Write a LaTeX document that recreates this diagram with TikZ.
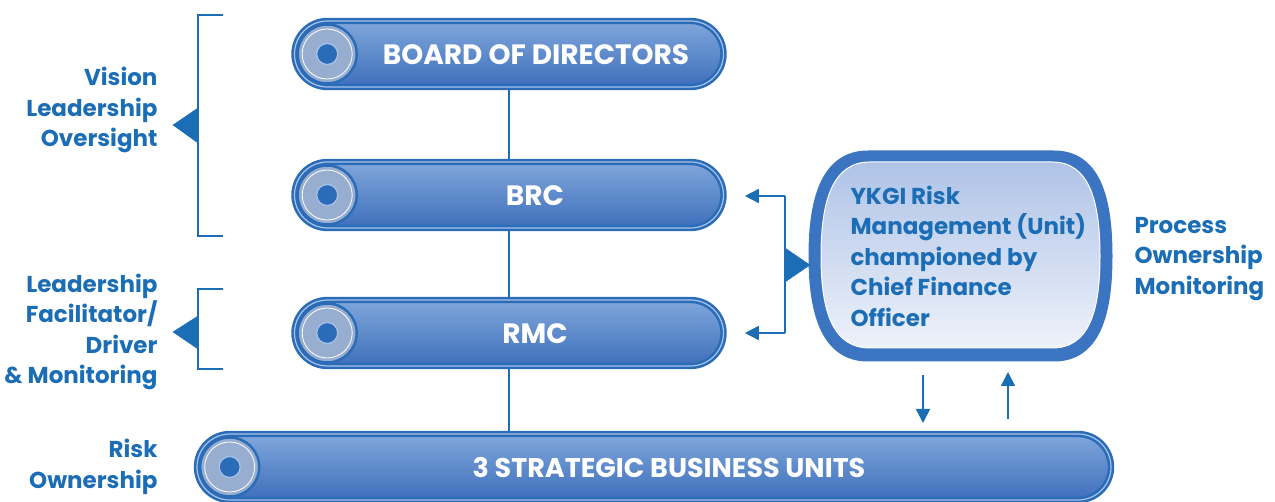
\documentclass[tikz,border=0pt]{standalone}
\usepackage{fontspec}
\setmainfont{Poppins}
\usetikzlibrary{arrows.meta,backgrounds}

\definecolor{ykblue}{HTML}{1B6DB6}
\definecolor{rimblue}{HTML}{2A6CB7}
\definecolor{rimlight}{HTML}{A9C3EA}
\definecolor{pilltop}{HTML}{80A7DC}
\definecolor{pillmid}{HTML}{5787CA}
\definecolor{pillbot}{HTML}{3E6FBB}
\definecolor{discgray}{HTML}{98AED0}
\definecolor{boxrim}{HTML}{3B75C1}
\definecolor{boxtop}{HTML}{AFC3E7}
\definecolor{boxbot}{HTML}{EEF2FA}

\tikzset{
  pill/.style={rectangle, rounded corners=33pt, minimum height=66pt, inner sep=0pt,
    draw=rimblue, double=rimlight, double distance=1.2pt, line width=2.6pt,
    top color=pilltop, middle color=pillmid, bottom color=pillbot},
  disc/.style={circle, minimum size=59pt, inner sep=0pt, draw=rimblue, line width=2.5pt,
    top color=discgray, middle color=white, bottom color=discgray, shading angle=45},
  discring/.style={circle, minimum size=50pt, inner sep=0pt, draw=white, line width=0.8pt},
  hole/.style={circle, minimum size=21pt, inner sep=0pt, fill=rimblue, draw=rimlight, line width=1.2pt},
  pilltext/.style={text=white, font=\fontsize{28}{30}\selectfont\bfseries},
  sidetext/.style={text=ykblue, align=right, anchor=east, font=\fontsize{23}{30.5}\selectfont\bfseries},
  boxtext/.style={text=ykblue, align=left, anchor=west, font=\fontsize{23}{30.5}\selectfont\bfseries},
  brace/.style={ykblue, line width=2pt},
  flag/.style={ykblue, fill},
  tip/.style={-{Triangle[length=14pt,width=14pt]}, ykblue, line width=1.6pt}
}

\begin{document}
\begin{tikzpicture}[x=1pt, y=-1pt]
\useasboundingbox (0,0) rectangle (1275,502);

% the four bars
\node[pill, minimum width=429pt] (board) at (509,54)  {};
\node[pill, minimum width=429pt] (brc)   at (509,195) {};
\node[pill, minimum width=429pt] (rmc)   at (509,333) {};
\node[pill, minimum width=914pt] (sbu)   at (654,467) {};

\foreach \n in {board,brc,rmc,sbu}{
  \node[disc] (\n disc) at ([xshift=34pt]\n.west) {};
  \node[discring] (\n ring) at (\n disc) {};
  \node[hole] (\n hole) at (\n disc) {};
}

\node[pilltext] (boardtxt) at (536,55)  {BOARD OF DIRECTORS};
\node[pilltext] (brctxt)   at (535,196) {BRC};
\node[pilltext] (rmctxt)   at (535,334) {RMC};
\node[pilltext, font=\fontsize{27}{30}\selectfont\bfseries] (sbutxt) at (669,468) {3 STRATEGIC BUSINESS UNITS};

\begin{scope}[on background layer]
\draw[ykblue, line width=1.4pt] (board.south) -- (board.south |- sbu.north);
\end{scope}

% left brackets
\draw[brace] (223,15) -- (198,15) -- (198,236) -- (223,236);
\draw[flag] (198,108) -- (173,125) -- (198,143) -- cycle;
\draw[brace] (223,289) -- (198,289) -- (198,369) -- (223,369);
\draw[flag] (198,316) -- (173,332) -- (198,349) -- cycle;

\node[sidetext] (vision) at (161,110) {Vision\\Leadership\\Oversight};
\node[sidetext] (lead)   at (161,332) {Leadership\\Facilitator/\\Driver\\\& Monitoring};
\node[sidetext] (own)    at (161,467) {Risk\\Ownership};

% risk management unit
\draw[boxrim, line width=11pt, fill=boxrim]
  (868,156) -- (1054,156) .. controls (1094,156) and (1107,196) .. (1107,256)
  .. controls (1107,316) and (1094,356) .. (1054,356) -- (868,356)
  .. controls (828,356) and (814,316) .. (814,256)
  .. controls (814,196) and (828,156) .. (868,156) -- cycle;
\shade[top color=boxtop, bottom color=boxbot, draw=white, line width=1pt]
  (870,162) -- (1052,162) .. controls (1088,162) and (1100,198) .. (1100,256)
  .. controls (1100,314) and (1088,348) .. (1052,348) -- (870,348)
  .. controls (834,348) and (821,314) .. (821,256)
  .. controls (821,198) and (834,162) .. (870,162) -- cycle;
\node[boxtext] (unit) at (847,256) {YKGI Risk\\Management (Unit)\\championed by\\Chief Finance\\Officer};

\node[boxtext] (process) at (1131,259) {Process\\Ownership\\Monitoring};

% right bracket with arrows to BRC and RMC
\coordinate (rtop) at (785,196);
\coordinate (rbot) at (785,333);
\draw[brace] (rtop) -- (rbot);
\draw[tip] (rtop) -- ([xshift=20pt]brc.east |- rtop);
\draw[tip] (rbot) -- ([xshift=20pt]rmc.east |- rbot);
\draw[flag] (785,248) -- (810,265) -- (785,282) -- cycle;

% flow between unit and business units
\coordinate (downA) at (923,375);
\coordinate (downB) at (923,423);
\coordinate (upA)   at (1008,419);
\coordinate (upB)   at (1008,372);
\draw[tip] (downA) -- (downB);
\draw[tip] (upA) -- (upB);
\end{tikzpicture}
\end{document}
